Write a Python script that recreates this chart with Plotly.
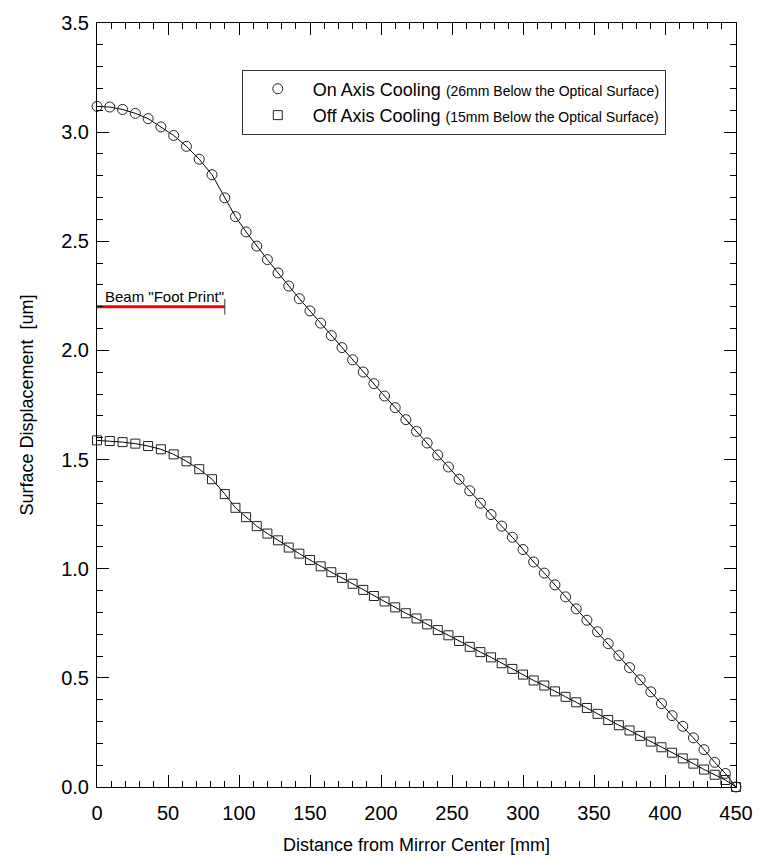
import plotly.graph_objects as go

# ---- data ----
distance_mm = [0, 9, 18, 27, 36, 45, 54, 63, 72, 81, 90,
               97.5, 105, 112.5, 120, 127.5, 135, 142.5, 150, 157.5, 165, 172.5, 180,
               187.5, 195, 202.5, 210, 217.5, 225, 232.5, 240, 247.5, 255, 262.5, 270,
               277.5, 285, 292.5, 300, 307.5, 315, 322.5, 330, 337.5, 345, 352.5,
               360, 367.5, 375, 382.5, 390, 397.5, 405, 412.5, 420, 427.5, 435, 442.5, 450]

on_axis_um = [3.118, 3.115, 3.104, 3.086, 3.062, 3.024, 2.985, 2.935, 2.876, 2.805, 2.699,
              2.613, 2.543, 2.478, 2.416, 2.355, 2.295, 2.237, 2.181, 2.125, 2.068, 2.013, 1.957,
              1.901, 1.848, 1.791, 1.738, 1.683, 1.629, 1.576, 1.521, 1.466, 1.410, 1.357, 1.300,
              1.248, 1.195, 1.144, 1.088, 1.031, 0.980, 0.926, 0.871, 0.816, 0.764, 0.711,
              0.657, 0.602, 0.547, 0.491, 0.436, 0.382, 0.327, 0.278, 0.225, 0.171, 0.113, 0.062, 0.0]

off_axis_um = [1.588, 1.585, 1.580, 1.573, 1.562, 1.547, 1.524, 1.492, 1.456, 1.410, 1.342,
               1.279, 1.236, 1.195, 1.161, 1.130, 1.097, 1.069, 1.040, 1.011, 0.984, 0.958, 0.931,
               0.903, 0.875, 0.850, 0.823, 0.796, 0.772, 0.745, 0.719, 0.695, 0.669, 0.642, 0.618,
               0.594, 0.567, 0.541, 0.515, 0.488, 0.465, 0.438, 0.413, 0.388, 0.362, 0.335,
               0.307, 0.283, 0.259, 0.234, 0.208, 0.182, 0.157, 0.131, 0.107, 0.080, 0.056, 0.032, 0.0]

footprint_x = [0, 90]
footprint_y = [2.2, 2.2]
footprint_label = 'Beam "Foot Print"'

x_title = "Distance from Mirror Center [mm]"
y_title = "Surface Displacement  [um]"

on_name = 'On Axis Cooling <span style="font-size:14px">(26mm Below the Optical Surface)</span>'
off_name = 'Off Axis Cooling <span style="font-size:14px">(15mm Below the Optical Surface)</span>'

FONT = "Liberation Sans, Arial, sans-serif"

fig = go.Figure()

# connecting lines
for ys in (on_axis_um, off_axis_um):
    fig.add_trace(go.Scatter(x=distance_mm, y=ys, mode="lines",
                             line=dict(color="black", width=1),
                             showlegend=False, hoverinfo="skip", cliponaxis=False))

# markers
fig.add_trace(go.Scatter(x=distance_mm, y=on_axis_um, mode="markers", name=on_name,
                         marker=dict(symbol="circle-open", size=10,
                                     line=dict(color="#222", width=1), color="#222"),
                         cliponaxis=False))
fig.add_trace(go.Scatter(x=distance_mm, y=off_axis_um, mode="markers", name=off_name,
                         marker=dict(symbol="square-open", size=9,
                                     line=dict(color="#222", width=1), color="#222"),
                         cliponaxis=False))

# beam footprint
fig.add_trace(go.Scatter(x=footprint_x, y=footprint_y, mode="lines",
                         line=dict(color="red", width=3), showlegend=False,
                         cliponaxis=False))
fig.add_shape(type="line", xref="x", yref="y",
              x0=footprint_x[1], x1=footprint_x[1],
              y0=footprint_y[1] - 0.036, y1=footprint_y[1] + 0.036,
              line=dict(color="#333", width=1))
fig.add_annotation(x=footprint_x[0] + 4.5, y=footprint_y[0], xref="x", yref="y",
                   text=footprint_label, showarrow=False, xanchor="left", yanchor="bottom",
                   yshift=0, font=dict(family=FONT, size=15, color="black"))

# x axis title (placed as annotation for exact vertical placement)
fig.add_annotation(x=0.5, y=0, xref="paper", yref="paper", text=x_title,
                   showarrow=False, xanchor="center", yanchor="middle", yshift=-58,
                   font=dict(family=FONT, size=18, color="black"))

axis_common = dict(showline=True, linecolor="black", linewidth=1, mirror="allticks",
                   ticks="inside", ticklen=12, tickwidth=1, tickcolor="black",
                   showgrid=False, zeroline=False,
                   tickfont=dict(family=FONT, size=20, color="black"))

fig.update_xaxes(range=[0, 450], dtick=50, tick0=0, ticklabelstandoff=8,
                 minor=dict(dtick=10, ticks="inside", ticklen=6, tickcolor="black", showgrid=False),
                 **axis_common)
fig.update_yaxes(range=[0, 3.5], dtick=0.5, tick0=0, tickformat=".1f", ticklabelstandoff=3,
                 minor=dict(dtick=0.1, ticks="inside", ticklen=6, tickcolor="black", showgrid=False),
                 title=dict(text=y_title,
                            font=dict(family=FONT, size=18, color="black"), standoff=22),
                 **axis_common)

fig.update_layout(
    width=765, height=859,
    margin=dict(l=97, r=28, t=15, b=72),
    paper_bgcolor="white", plot_bgcolor="white",
    font=dict(family=FONT, color="black"),
    legend=dict(x=0.2266, y=0.9391, xanchor="left", yanchor="top",
                bordercolor="#333", borderwidth=1, bgcolor="white",
                font=dict(family=FONT, size=18, color="black"),
                itemwidth=60, tracegroupgap=0),
)

fig.write_html("out.html")
